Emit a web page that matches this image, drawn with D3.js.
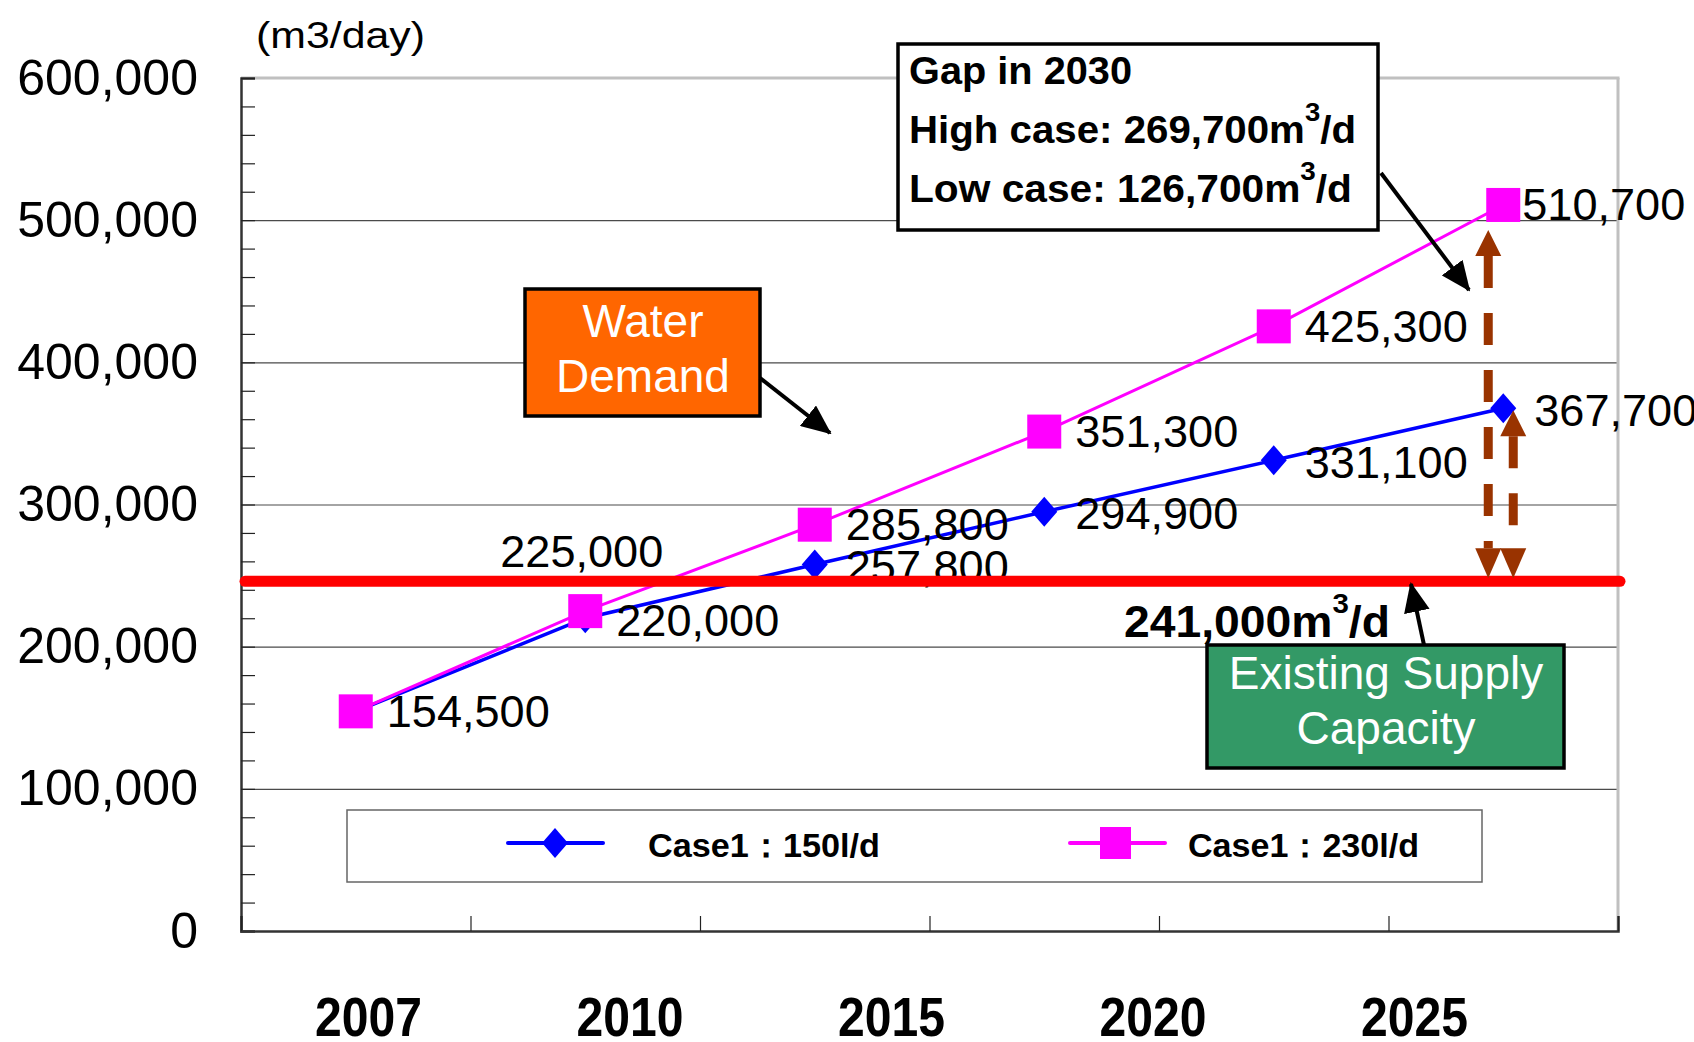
<!DOCTYPE html>
<html>
<head>
<meta charset="utf-8">
<script src="https://cdn.jsdelivr.net/npm/d3@7"></script>
<style>
  body { margin: 0; background: #fff; }
  svg { display: block; font-family: "Liberation Sans", Arial, sans-serif; }
</style>
</head>
<body>
<div id="chart"></div>
<script>
// data
const years = ["2007", "2010", "2015", "2020", "2025", "2030"];
const yearLabels = ["2007", "2010", "2015", "2020", "2025"];
const lowCase = [154500, 220000, 257800, 294900, 331100, 367700];
const highCase = [154500, 225000, 285800, 351300, 425300, 510700];
const seriesNames = ["Case1：150l/d", "Case1：230l/d"];
const supply = 246000;          // where the red line sits
const yTicks = [0, 100000, 200000, 300000, 400000, 500000, 600000];

const W = 1694, H = 1042;
const m = {left: 241, right: 1618, top: 78, bottom: 931};

const svg = d3.select('#chart').append('svg')
    .attr('width', W).attr('height', H);

const x = d3.scaleLinear().domain([0, years.length]).range([m.left, m.right]);
const cx = i => x(i + 0.5);
const y = d3.scaleLinear().domain([0, 600000]).range([m.bottom, m.top]);
// the year labels sit on their own spacing, not under the points
const xl = d3.scalePoint().domain(yearLabels).range([368, 1414]);

const fmt = d3.format(',');

// arrow heads
const defs = svg.append('defs');
defs.append('marker')
    .attr('id', 'head')
    .attr('markerUnits', 'userSpaceOnUse')
    .attr('viewBox', '0 0 30 26')
    .attr('refX', 28).attr('refY', 13)
    .attr('markerWidth', 30).attr('markerHeight', 26)
    .attr('orient', 'auto')
  .append('path').attr('d', 'M0,0 L30,13 L0,26 Z').attr('fill', '#000');

// gridlines
svg.append('g')
    .attr('transform', `translate(${m.left},0)`)
    .call(d3.axisLeft(y).tickValues(yTicks.slice(1, -1)).tickSize(-(m.right - m.left)).tickFormat(''))
    .call(g => g.select('.domain').remove())
    .selectAll('line').attr('stroke', '#4a4a4a').attr('stroke-width', 1.2);

// top and right frame
svg.append('line')
    .attr('x1', m.left).attr('x2', m.right + 1.5).attr('y1', y(600000)).attr('y2', y(600000))
    .attr('stroke', '#c0c0c0').attr('stroke-width', 3);
svg.append('line')
    .attr('x1', m.right).attr('x2', m.right).attr('y1', m.top).attr('y2', m.bottom)
    .attr('stroke', '#c0c0c0').attr('stroke-width', 3);

// small ticks inside on the left
svg.append('g')
    .attr('transform', `translate(${m.left},0)`)
    .call(d3.axisLeft(y).tickValues(d3.range(0, 600001, 20000)).tickSize(-14).tickFormat(''))
    .call(g => g.select('.domain').attr('stroke', '#333').attr('stroke-width', 2.5))
    .selectAll('line').attr('stroke', '#222').attr('stroke-width', 1.2);

// y labels
svg.append('g')
    .attr('transform', `translate(${m.left},0)`)
    .call(d3.axisLeft(y).tickValues(yTicks).tickSize(0).tickPadding(43).tickFormat(fmt))
    .call(g => g.select('.domain').remove())
    .selectAll('text')
    .attr('font-family', '"Liberation Sans", Arial, sans-serif')
    .attr('font-size', 50)
    .attr('fill', '#000');

// x axis with ticks at the category edges
svg.append('g')
    .attr('transform', `translate(0,${m.bottom})`)
    .call(d3.axisBottom(x).tickValues(d3.range(0, years.length + 1)).tickSize(-15).tickFormat(''))
    .call(g => g.select('.domain').attr('stroke', '#333').attr('stroke-width', 2.5))
    .selectAll('line').attr('stroke', '#222').attr('stroke-width', 1.2);

svg.append('g')
    .attr('transform', `translate(0,${m.bottom})`)
    .call(d3.axisBottom(xl).tickSize(0).tickPadding(66))
    .call(g => g.select('.domain').remove())
    .selectAll('text')
    .attr('font-family', '"Liberation Sans", Arial, sans-serif')
    .attr('font-size', 55)
    .attr('font-weight', 'bold')
    .attr('fill', '#000')
    .attr('textLength', 107)
    .attr('lengthAdjust', 'spacingAndGlyphs');

// unit
svg.append('text')
    .attr('x', 256).attr('y', 35)
    .attr('dominant-baseline', 'central')
    .attr('font-size', 36)
    .attr('textLength', 169).attr('lengthAdjust', 'spacingAndGlyphs')
    .text('(m3/day)');

// legend
const lg = svg.append('g');
lg.append('rect')
    .attr('x', 347).attr('y', 810).attr('width', 1135).attr('height', 72)
    .attr('fill', '#fff').attr('stroke', '#666').attr('stroke-width', 1.5);
const legendItems = [
  {name: seriesNames[0], color: '#0000ff', x0: 508, shape: 'diamond', tx: 648, tw: 232},
  {name: seriesNames[1], color: '#ff00ff', x0: 1070, shape: 'square', tx: 1188, tw: 231}
];
legendItems.forEach(d => {
  lg.append('line').attr('x1', d.x0).attr('x2', d.x0 + 95).attr('y1', 843).attr('y2', 843)
      .attr('stroke', d.color).attr('stroke-width', 4).attr('stroke-linecap', 'round');
  if (d.shape === 'diamond') {
    lg.append('path').attr('d', 'M0,-15 L13,0 L0,15 L-13,0 Z')
        .attr('transform', `translate(${d.x0 + 47},843)`).attr('fill', d.color);
  } else {
    lg.append('rect').attr('x', d.x0 + 30).attr('y', 827).attr('width', 31).attr('height', 32)
        .attr('fill', d.color);
  }
  lg.append('text').attr('x', d.tx).attr('y', 845)
      .attr('dominant-baseline', 'central')
      .attr('font-size', 34).attr('font-weight', 'bold')
      .attr('textLength', d.tw).attr('lengthAdjust', 'spacingAndGlyphs')
      .text(d.name);
});

// lines
const line = d3.line().x((d, i) => cx(i)).y(d => y(d));
svg.append('path').datum(lowCase).attr('d', line)
    .attr('fill', 'none').attr('stroke', '#0000ff').attr('stroke-width', 3.5);
svg.append('path').datum(highCase).attr('d', line)
    .attr('fill', 'none').attr('stroke', '#ff00ff').attr('stroke-width', 3);

svg.selectAll('.dia').data(lowCase).enter().append('path')
    .attr('d', 'M0,-15 L13,0 L0,15 L-13,0 Z')
    .attr('transform', (d, i) => `translate(${cx(i)},${y(d)})`)
    .attr('fill', '#0000ff');
svg.selectAll('.sq').data(highCase).enter().append('rect')
    .attr('x', (d, i) => cx(i) - 17).attr('y', d => y(d) - 17)
    .attr('width', 34).attr('height', 34)
    .attr('fill', '#ff00ff');

// value labels
const labels = [];
highCase.forEach((v, i) => labels.push({i, v, dx: i === 1 ? -85 : (i === 5 ? 19 : 31), dy: i === 1 ? -60 : 0}));
lowCase.forEach((v, i) => { if (i > 0) labels.push({i, v, dx: 31, dy: 2}); });
svg.selectAll('.lbl').data(labels).enter().append('text')
    .attr('x', d => cx(d.i) + d.dx)
    .attr('y', d => y(d.v) + d.dy)
    .attr('dominant-baseline', 'central')
    .attr('font-size', 45)
    .attr('textLength', 163).attr('lengthAdjust', 'spacingAndGlyphs')
    .text(d => fmt(d.v));

// supply line
svg.append('line')
    .attr('x1', m.left + 4).attr('x2', m.right + 2)
    .attr('y1', y(supply)).attr('y2', y(supply))
    .attr('stroke', '#ff0000').attr('stroke-width', 11).attr('stroke-linecap', 'round');

// gap arrows (dashed, heads at both ends)
const brown = '#993300';
const gaps = [
  {xx: cx(5) - 15, top: y(highCase[5]) + 25},
  {xx: cx(5) + 10, top: y(lowCase[5]) + 2}
];
gaps.forEach(g => {
  const bot = y(supply) - 3;
  svg.append('line')
      .attr('x1', g.xx).attr('x2', g.xx).attr('y1', g.top + 26).attr('y2', bot - 30)
      .attr('stroke', brown).attr('stroke-width', 9).attr('stroke-dasharray', '32,25');
  svg.append('path')
      .attr('d', `M${g.xx},${g.top} L${g.xx + 13},${g.top + 26} L${g.xx - 13},${g.top + 26} Z`)
      .attr('fill', brown);
  svg.append('path')
      .attr('d', `M${g.xx},${bot} L${g.xx + 13},${bot - 30} L${g.xx - 13},${bot - 30} Z`)
      .attr('fill', brown);
});

// supply value text
const st = svg.append('text')
    .attr('x', 1124).attr('y', 621)
    .attr('dominant-baseline', 'central')
    .attr('font-size', 44).attr('font-weight', 'bold')
    .attr('textLength', 266).attr('lengthAdjust', 'spacingAndGlyphs');
st.append('tspan').text(fmt(241000) + 'm');
st.append('tspan').attr('font-size', 28).attr('dy', -18).text('3');
st.append('tspan').attr('dy', 18).text('/d');

// Gap box
svg.append('rect')
    .attr('x', 898).attr('y', 44).attr('width', 480).attr('height', 186)
    .attr('fill', '#fff').attr('stroke', '#000').attr('stroke-width', 3.5);
svg.append('text')
    .attr('x', 909).attr('y', 71).attr('dominant-baseline', 'central')
    .attr('font-size', 38).attr('font-weight', 'bold')
    .attr('textLength', 223).attr('lengthAdjust', 'spacingAndGlyphs')
    .text('Gap in 2030');
[['High case: ', 269700, 130, 447], ['Low case: ', 126700, 189, 443]].forEach(r => {
  const t = svg.append('text')
      .attr('x', 909).attr('y', r[2]).attr('dominant-baseline', 'central')
      .attr('font-size', 38).attr('font-weight', 'bold')
      .attr('textLength', r[3]).attr('lengthAdjust', 'spacingAndGlyphs');
  t.append('tspan').text(r[0] + fmt(r[1]) + 'm');
  t.append('tspan').attr('font-size', 26).attr('dy', -18).text('3');
  t.append('tspan').attr('dy', 18).text('/d');
});
svg.append('line')
    .attr('x1', 1381).attr('y1', 173).attr('x2', 1469).attr('y2', 290)
    .attr('stroke', '#000').attr('stroke-width', 4).attr('marker-end', 'url(#head)');

// Water Demand box
svg.append('rect')
    .attr('x', 525).attr('y', 289).attr('width', 235).attr('height', 127)
    .attr('fill', '#ff6600').attr('stroke', '#000').attr('stroke-width', 3.5);
['Water', 'Demand'].forEach((s, k) => {
  svg.append('text')
      .attr('x', 643).attr('y', 321 + k * 55).attr('dominant-baseline', 'central')
      .attr('text-anchor', 'middle')
      .attr('font-size', 46).attr('fill', '#fff')
      .text(s);
});
svg.append('line')
    .attr('x1', 760).attr('y1', 378).attr('x2', 830).attr('y2', 433)
    .attr('stroke', '#000').attr('stroke-width', 4).attr('marker-end', 'url(#head)');

// Existing Supply box
svg.append('rect')
    .attr('x', 1207).attr('y', 645).attr('width', 357).attr('height', 123)
    .attr('fill', '#339966').attr('stroke', '#000').attr('stroke-width', 3.5);
['Existing Supply', 'Capacity'].forEach((s, k) => {
  svg.append('text')
      .attr('x', 1386).attr('y', 673 + k * 55).attr('dominant-baseline', 'central')
      .attr('text-anchor', 'middle')
      .attr('font-size', 46).attr('fill', '#fff')
      .text(s);
});
svg.append('line')
    .attr('x1', 1424).attr('y1', 645).attr('x2', 1411).attr('y2', 584)
    .attr('stroke', '#000').attr('stroke-width', 4).attr('marker-end', 'url(#head)');
</script>
</body>
</html>
